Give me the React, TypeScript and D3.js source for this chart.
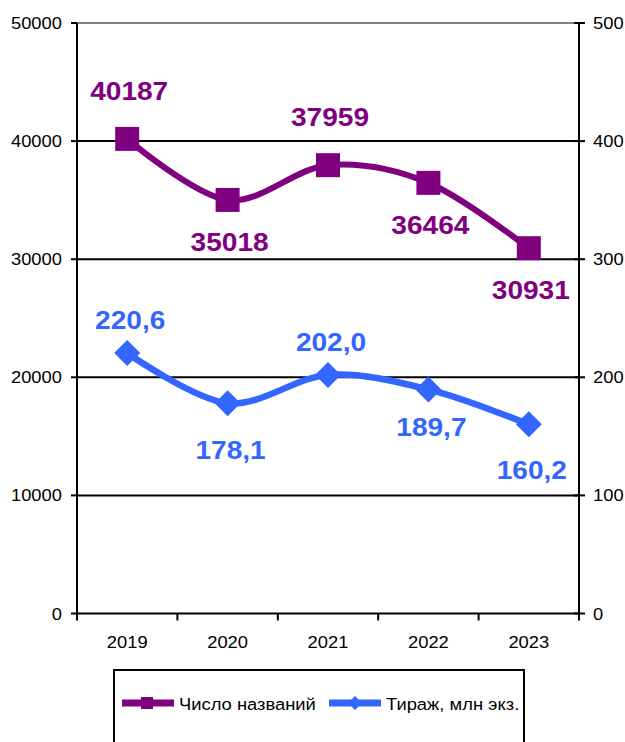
import React from "react";
import * as d3 from "d3";

const years = ["2019", "2020", "2021", "2022", "2023"];
const titles = [40187, 35018, 37959, 36464, 30931];
const circulation = [220.6, 178.1, 202.0, 189.7, 160.2];
const titleLabels = ["40187", "35018", "37959", "36464", "30931"];
const circLabels = ["220,6", "178,1", "202,0", "189,7", "160,2"];
const titlePlace = ["above", "below", "above", "below", "below"];
const circPlace = ["above", "below", "above", "below", "below"];
const circNudge = [0, 3, 0, -6, 2];
const leftTicks = [0, 10000, 20000, 30000, 40000, 50000];
const rightTicks = [0, 100, 200, 300, 400, 500];
const seriesNames = ["Число названий", "Тираж, млн экз."];

const PURPLE = "#800080";
const BLUE = "#3366FF";
const SX = 1.08;
const FONT = "Liberation Sans, Arial, sans-serif";

export default function App() {
  const W = 625, H = 742;
  const left = 77, right = 579, top = 23, bottom = 613.5;
  const x = d3.scalePoint<string>().domain(years).range([left, right]).padding(0.5);
  const yL = d3.scaleLinear().domain([0, 50000]).range([bottom, top]);
  const yR = d3.scaleLinear().domain([0, 500]).range([bottom, top]);
  const band = (right - left) / years.length;

  const curve = d3.curveCardinal.tension(0);
  const lineT = d3.line<number>().x((_, i) => x(years[i])!).y((d) => yL(d)).curve(curve);
  const lineC = d3.line<number>().x((_, i) => x(years[i])!).y((d) => yR(d)).curve(curve);

  const txt = (
    key: string,
    tx: number,
    ty: number,
    s: string,
    size: number,
    anchor: string,
    fill = "#000",
    weight = "normal"
  ) => (
    <text
      key={key}
      transform={`translate(${tx},${ty}) scale(${SX},1)`}
      fontSize={size}
      fontFamily={FONT}
      fontWeight={weight}
      textAnchor={anchor}
      fill={fill}
    >
      {s}
    </text>
  );

  const diamond = (cx: number, cy: number, r: number) =>
    `M${cx},${cy - r}L${cx + r},${cy}L${cx},${cy + r}L${cx - r},${cy}Z`;

  return (
    <svg
      width={W}
      height={H}
      style={{ position: "absolute", left: 0, top: 0, background: "#fff" }}
    >
      <rect x={0} y={0} width={W} height={H} fill="#fff" />
      {/* gridlines */}
      {leftTicks.map((t) => (
        <line
          key={"g" + t}
          x1={left}
          x2={right}
          y1={yL(t)}
          y2={yL(t)}
          stroke={t === 50000 ? "#808080" : "#000"}
          strokeWidth={2}
        />
      ))}
      {/* axes */}
      <line x1={left} x2={left} y1={top} y2={bottom + 1} stroke="#000" strokeWidth={2} />
      <line x1={right} x2={right} y1={top} y2={bottom + 1} stroke="#000" strokeWidth={2} />
      {leftTicks.map((t) => (
        <line key={"lt" + t} x1={left - 6} x2={left} y1={yL(t)} y2={yL(t)} stroke="#000" strokeWidth={2} />
      ))}
      {rightTicks.map((t) => (
        <line key={"rt" + t} x1={right - 5} x2={right + 6} y1={yR(t)} y2={yR(t)} stroke="#000" strokeWidth={2} />
      ))}
      {d3.range(years.length + 1).map((i) => (
        <line
          key={"xt" + i}
          x1={left + i * band}
          x2={left + i * band}
          y1={bottom}
          y2={bottom + 7}
          stroke="#000"
          strokeWidth={2}
        />
      ))}
      {leftTicks.map((t) => txt("ll" + t, 62, yL(t) + 6, String(t), 17, "end"))}
      {rightTicks.map((t) => txt("rl" + t, 593, yR(t) + 6, String(t), 17, "start"))}
      {years.map((y) => txt("xl" + y, x(y)!, 648, y, 17, "middle"))}

      {/* series lines */}
      <path d={lineT(titles) || ""} fill="none" stroke={PURPLE} strokeWidth={6} />
      <path d={lineC(circulation) || ""} fill="none" stroke={BLUE} strokeWidth={6.5} />
      {titles.map((v, i) => (
        <rect key={"m" + i} x={x(years[i])! - 12} y={yL(v) - 12} width={24} height={24} fill={PURPLE} />
      ))}
      {circulation.map((v, i) => (
        <path key={"d" + i} d={diamond(x(years[i])!, yR(v), 13)} fill={BLUE} />
      ))}

      {/* data labels */}
      {titles.map((v, i) =>
        txt(
          "tl" + i,
          x(years[i])! + 2,
          yL(v) + (titlePlace[i] === "above" ? -39 : 51),
          titleLabels[i],
          26,
          "middle",
          PURPLE,
          "bold"
        )
      )}
      {circulation.map((v, i) =>
        txt(
          "cl" + i,
          x(years[i])! + 3,
          yR(v) + (circPlace[i] === "above" ? -23.5 : 53) + circNudge[i],
          circLabels[i],
          26,
          "middle",
          BLUE,
          "bold"
        )
      )}

      {/* legend */}
      <rect x={114} y={670} width={410} height={110} fill="#fff" stroke="#000" strokeWidth={2} />
      <line x1={122} x2={174} y1={703} y2={703} stroke={PURPLE} strokeWidth={7} />
      <rect x={141} y={697} width={12} height={12} fill={PURPLE} />
      {txt("lg0", 179, 710, seriesNames[0], 17, "start")}
      <line x1={329} x2={381} y1={703} y2={703} stroke={BLUE} strokeWidth={7} />
      <path d={diamond(355, 703, 7)} fill={BLUE} />
      {txt("lg1", 386, 710, seriesNames[1], 17, "start")}
    </svg>
  );
}
